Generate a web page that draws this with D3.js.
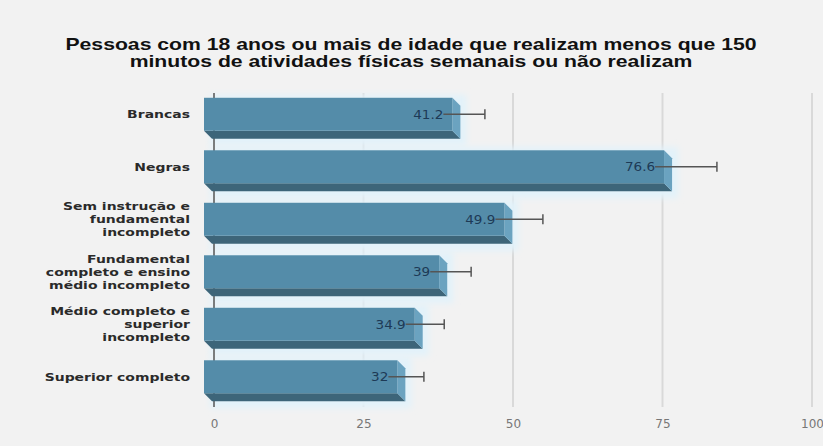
<!DOCTYPE html>
<html>
<head>
<meta charset="utf-8">
<script src="https://cdn.jsdelivr.net/npm/d3@7"></script>
<style>
  html, body { margin: 0; padding: 0; background: #f2f2f2; }
  svg { display: block; }
</style>
</head>
<body>
<svg id="chart" width="823" height="446"></svg>
<script>
const titleLines = [
  "Pessoas com 18 anos ou mais de idade que realizam menos que 150",
  "minutos de atividades físicas semanais ou não realizam"
];
const categories = [
  "Brancas",
  "Negras",
  "Sem instrução e fundamental incompleto",
  "Fundamental completo e ensino médio incompleto",
  "Médio completo e superior incompleto",
  "Superior completo"
];
const categoryLines = [
  ["Brancas"],
  ["Negras"],
  ["Sem instrução e", "fundamental", "incompleto"],
  ["Fundamental", "completo e ensino", "médio incompleto"],
  ["Médio completo e", "superior", "incompleto"],
  ["Superior completo"]
];
const values = [41.2, 76.6, 49.9, 39, 34.9, 32];
const upperCI = [45.3, 84.1, 55.0, 43.0, 38.5, 35.1];
const tickValues = [0, 25, 50, 75, 100];

const svg = d3.select("#chart");
const W = 823, H = 446;
svg.append("rect").attr("width", W).attr("height", H).attr("fill", "#f2f2f2");

const x = d3.scaleLinear().domain([0, 100]).range([214, 812]);
const y = d3.scaleBand().domain(categories).range([92, 407]).paddingInner(0.22).paddingOuter(0.11);

const defs = svg.append("defs");
const blur = defs.append("filter").attr("id", "glow").attr("x", "-10%").attr("y", "-50%").attr("width", "120%").attr("height", "200%");
blur.append("feGaussianBlur").attr("stdDeviation", 3);

// title (horizontally stretched like the reference)
const tg = svg.append("g").attr("transform", "translate(411,0) scale(1.325,1)");
tg.selectAll("text").data(titleLines).join("text")
  .attr("x", 0).attr("y", (d, i) => 50 + i * 17)
  .attr("text-anchor", "middle")
  .attr("font-family", "Liberation Sans, Arial, sans-serif")
  .attr("font-weight", "bold").attr("font-size", 16)
  .attr("fill", "#111")
  .text(d => d);

// grid
const grid = svg.append("g");
grid.selectAll("line").data(tickValues.slice(1)).join("line")
  .attr("x1", d => x(d)).attr("x2", d => x(d))
  .attr("y1", 93).attr("y2", 407)
  .attr("stroke", "#d9d9d9").attr("stroke-width", 2);

// axis with tick labels
const axis = d3.axisBottom(x).tickValues(tickValues).tickSize(0).tickPadding(12).tickFormat(d3.format("d"));
const ag = svg.append("g").attr("transform", "translate(0,407)").call(axis);
ag.select(".domain").remove();
ag.selectAll("text").attr("font-family", "DejaVu Sans, Verdana, sans-serif").attr("font-size", 12).attr("fill", "#777");

// glow behind bars
const bw = y.bandwidth();
const d3d = 8;
svg.append("g").selectAll("rect").data(categories).join("rect")
  .attr("x", x(0) - 4).attr("y", c => y(c) - 3)
  .attr("width", (c, i) => x(values[i]) - x(0) + 10)
  .attr("height", bw + 10)
  .attr("fill", "#e2f2fa").attr("filter", "url(#glow)");

// zero line
svg.append("line").attr("x1", x(0)).attr("x2", x(0)).attr("y1", 93).attr("y2", 407)
  .attr("stroke", "#555").attr("stroke-width", 1.5);

// bars (3D)
const bars = svg.append("g").selectAll("g").data(categories).join("g");
bars.each(function(c, i) {
  const g = d3.select(this);
  const x0 = x(0) - 10, x1 = x(values[i]);
  const t = y(c), b = y(c) + bw;
  g.append("polygon")
    .attr("points", [[x0, b - d3d], [x1 - d3d, b - d3d], [x1, b], [x0 + d3d, b]].map(p => p.join(",")).join(" "))
    .attr("fill", "#3d6579");
  g.append("polygon")
    .attr("points", [[x1 - d3d, t], [x1, t + d3d], [x1, b], [x1 - d3d, b - d3d]].map(p => p.join(",")).join(" "))
    .attr("fill", "#6ba3c0");
  g.append("rect").attr("x", x0).attr("y", t).attr("width", x1 - d3d - x0).attr("height", bw - d3d)
    .attr("fill", "#548ca9");
});

// error bars
const eb = svg.append("g");
categories.forEach((c, i) => {
  const cy = y(c) + (bw - d3d) / 2;
  eb.append("line").attr("x1", x(values[i]) - 17).attr("x2", x(upperCI[i]))
    .attr("y1", cy).attr("y2", cy).attr("stroke", "#555").attr("stroke-width", 1.3);
  eb.append("line").attr("x1", x(upperCI[i])).attr("x2", x(upperCI[i]))
    .attr("y1", cy - 5).attr("y2", cy + 5).attr("stroke", "#555").attr("stroke-width", 1.5);
});

// value labels
categories.forEach((c, i) => {
  svg.append("text")
    .attr("transform", `translate(${x(values[i]) - 17},${y(c) + (bw - d3d) / 2}) scale(1.13,1)`)
    .attr("dy", "0.36em")
    .attr("text-anchor", "end")
    .attr("font-family", "DejaVu Sans, Verdana, sans-serif")
    .attr("font-size", 12).attr("fill", "#1d3a56")
    .text(String(values[i]));
});

// category labels (horizontally stretched)
const cl = svg.append("g");
categories.forEach((c, i) => {
  const lines = categoryLines[i];
  const cy = y(c) + (bw - d3d) / 2;
  const lh = 13;
  const t = cl.append("text")
    .attr("transform", `translate(190,${cy}) scale(1.27,1)`)
    .attr("text-anchor", "end")
    .attr("font-family", "DejaVu Sans, Verdana, sans-serif")
    .attr("font-weight", "bold").attr("font-size", 11)
    .attr("fill", "#2a2a2a");
  lines.forEach((ln, k) => {
    t.append("tspan").attr("x", 0)
      .attr("y", (k - (lines.length - 1) / 2) * lh)
      .attr("dy", "0.36em").text(ln);
  });
});
</script>
</body>
</html>
